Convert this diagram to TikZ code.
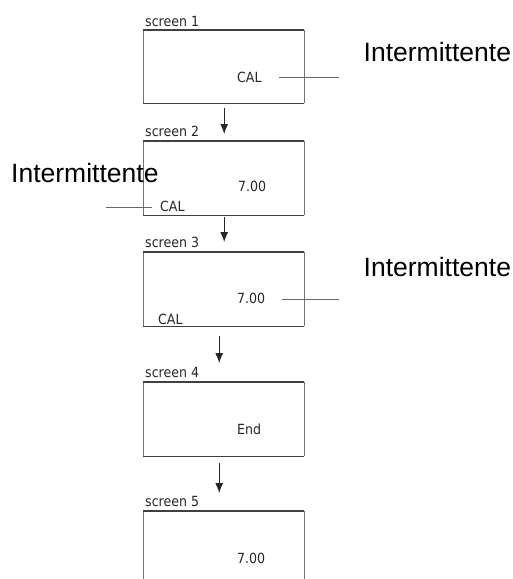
\documentclass[tikz,border=0pt]{standalone}
\usepackage{fontspec}
\setmainfont{DejaVu Sans Condensed}
\newfontfamily\arialf{Liberation Sans}
\usetikzlibrary{arrows.meta}
\begin{document}
\begin{tikzpicture}[x=1pt,y=-1pt,
  small/.style={font=\fontsize{14}{16}\selectfont, inner sep=0pt, anchor=base west, text=black!85},
  big/.style={font=\arialf\fontsize{26.5}{30}\selectfont, inner sep=0pt, anchor=base west},
  scr/.style={draw=none, inner sep=0pt, minimum width=161pt, anchor=north west},
  hedge/.style={line width=1.8pt, draw=black!75},
  vedge/.style={line width=0.9pt, draw=black!55},
  lead/.style={line width=0.9pt, draw=black!60},
  flow/.style={line width=1pt, draw=black!85, -{Latex[length=10pt,width=8pt]}}]
\useasboundingbox (0,0) rectangle (513,579);

% screens
\node[scr, minimum height=73pt] (s1) at (143,30) {};
\node[scr, minimum height=74pt] (s2) at (143,141) {};
\node[scr, minimum height=74pt] (s3) at (143,252) {};
\node[scr, minimum height=74pt] (s4) at (143,382) {};
\node[scr, minimum height=68pt] (s5) at (143,511) {};

\foreach \s in {s1,s2,s3,s4}{
  \draw[vedge] (\s.north west) -- (\s.south west) (\s.north east) -- (\s.south east);
  \draw[hedge] (\s.north west) -- (\s.north east) (\s.south west) -- (\s.south east);
}
\draw[vedge] (s5.north west) -- (s5.south west) (s5.north east) -- (s5.south east);
\draw[hedge] (s5.north west) -- (s5.north east);

% screen labels
\node[small] (t1) at (145,26) {screen 1};
\node[small] (t2) at (145,136.5) {screen 2};
\node[small] (t3) at (145,247) {screen 3};
\node[small] (t4) at (145,377.5) {screen 4};
\node[small] (t5) at (145,506.5) {screen 5};

% display contents
\node[small] (cal1) at (237,82) {CAL};
\node[small] (v2) at (238,191) {7.00};
\node[small] (cal2) at (160,211) {CAL};
\node[small] (v3) at (237,303) {7.00};
\node[small] (cal3) at (158,324) {CAL};
\node[small] (end4) at (237,434) {End};
\node[small] (v5) at (237,563) {7.00};

% labels
\node[big] (i1) at (363.5,61) {Intermittente};
\node[big] (i2) at (11,182) {Intermittente};
\node[big] (i3) at (363.5,276) {Intermittente};

% leader lines
\coordinate (l1) at (339,77);
\coordinate (l2) at (106,207);
\coordinate (l3) at (339,299);
\draw[lead] (279,77) -- (l1);
\draw[lead] (l2) -- (152,207);
\draw[lead] (282,299) -- (l3);

% flow arrows
\draw[flow] ([xshift=0.5pt,yshift=-5pt]s1.south) -- ([xshift=0.5pt,yshift=7pt]s2.north);
\draw[flow] ([xshift=0.5pt,yshift=-2pt]s2.south) -- ([xshift=0.5pt,yshift=10pt]s3.north);
\draw[flow] ([xshift=-4.5pt,yshift=-10pt]s3.south) -- ([xshift=-4.5pt,yshift=19pt]s4.north);
\draw[flow] ([xshift=-4.5pt,yshift=-7pt]s4.south) -- ([xshift=-4.5pt,yshift=18pt]s5.north);
\end{tikzpicture}
\end{document}
